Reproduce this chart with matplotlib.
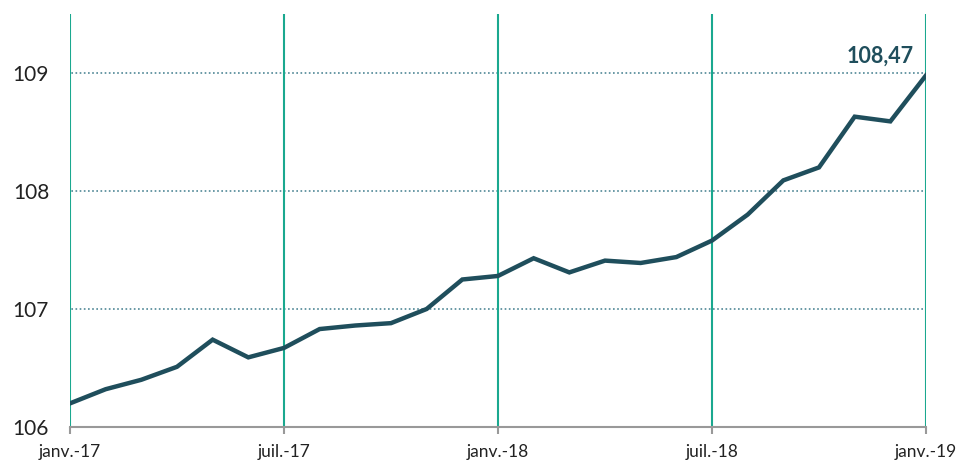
import matplotlib
matplotlib.use("Agg")
import matplotlib.pyplot as plt

months = list(range(25))
values = [106.20, 106.32, 106.40, 106.51, 106.74, 106.59, 106.67, 106.83, 106.86, 106.88,
          107.00, 107.25, 107.28, 107.43, 107.31, 107.41, 107.39, 107.44, 107.58, 107.80,
          108.09, 108.20, 108.63, 108.59, 108.98]
tick_pos = [0, 6, 12, 18, 24]
tick_labels = ["janv.-17", "juil.-17", "janv.-18", "juil.-18", "janv.-19"]
y_ticks = [106, 107, 108, 109]
last_label = "108,47"

plt.rcParams['font.family'] = ['Lato', 'DejaVu Sans']

fig = plt.figure(figsize=(9.65, 4.61), dpi=100)
ax = fig.add_axes([0.0725, 0.0738, 0.8871, 0.8958])

for yv in y_ticks[1:]:
    ax.plot([-0.2, 23.95], [yv, yv], linestyle=(0, (1, 1.5)), color="#4f8796", lw=1.2, zorder=1)
for xp in tick_pos:
    ax.axvline(xp, color="#1aa88f", lw=1.5, zorder=2)

ax.plot(months, values, color="#1f4e5c", lw=3.2, zorder=3, solid_joinstyle="miter")

ax.annotate(last_label, xy=(months[-1], values[-1]), xytext=(-9, 6), textcoords="offset points",
            ha="right", va="bottom", fontsize=15.5, fontweight="bold", color="#1f4e5c")

ax.set_xlim(0, 24)
ax.set_ylim(106, 109.5)
ax.set_xticks(tick_pos)
ax.set_xticklabels(tick_labels, fontsize=12.5, color="#222222")
ax.set_yticks(y_ticks)
ax.set_yticklabels([str(v) for v in y_ticks], fontsize=15, color="#222222")
for s in ["top", "right", "left"]:
    ax.spines[s].set_visible(False)
ax.spines["bottom"].set_color("#999999")
ax.spines["bottom"].set_linewidth(1.5)
ax.tick_params(axis="x", length=5, color="#999999", width=1.5, pad=7)
ax.tick_params(axis="y", length=0, pad=15)

fig.savefig("out.png", dpi=100)
